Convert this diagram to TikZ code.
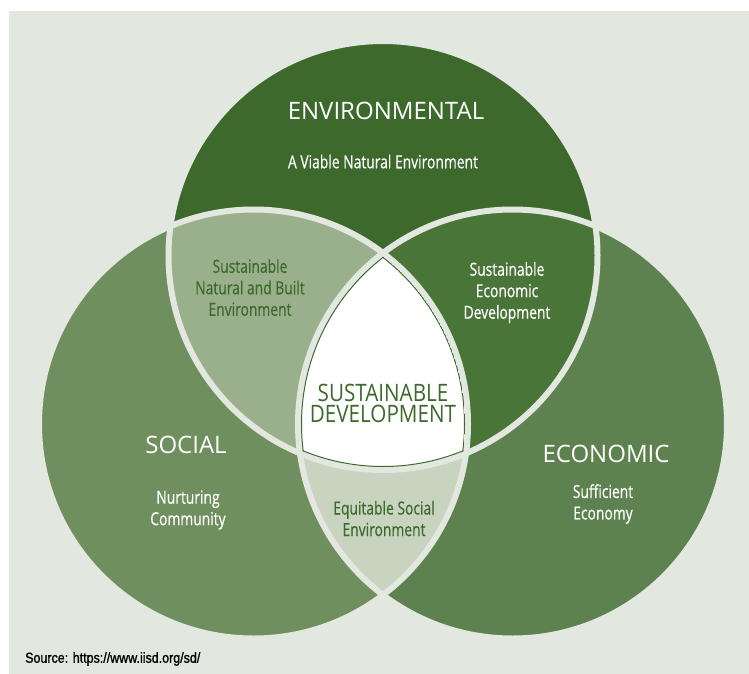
\documentclass[tikz,border=0pt]{standalone}
\usepackage{fontspec}
\setmainfont{Open Sans}
\newfontfamily\headfont{Open Sans}
\newfontfamily\condfont[FakeStretch=0.77,FakeBold=0.4]{Open Sans}
\newfontfamily\centfont[FakeStretch=0.86]{Open Sans}
\newfontfamily\srcfont[FakeStretch=0.86,FakeBold=1.2]{Liberation Sans}
\definecolor{bgc}{HTML}{E2E7E0}
\definecolor{envc}{HTML}{3D6A2C}
\definecolor{envecc}{HTML}{4A7538}
\definecolor{econc}{HTML}{5E824F}
\definecolor{socialc}{HTML}{6F8F5E}
\definecolor{natc}{HTML}{9AB08C}
\definecolor{equc}{HTML}{C8D4BF}
\definecolor{darkg}{HTML}{3B6A2A}
\def\circR{214.5pt}
\begin{document}
\begin{tikzpicture}[x=1pt,y=-1pt,
  lbl/.style={inner sep=0pt, align=center},
  headlbl/.style={lbl, text=white, font=\headfont\fontsize{24}{28}\selectfont},
  sublbl/.style={lbl, text=white, font=\condfont\fontsize{18}{21.5}\selectfont},
  lenslbl/.style={lbl, text=darkg, font=\condfont\fontsize{18}{21.5}\selectfont},
  band/.style={bgc, line width=6pt}]
\useasboundingbox (0,0) rectangle (749,674);
\fill[white] (0,0) rectangle (749,674);
\fill[bgc] (9,11) rectangle (749,674);
\coordinate (S) at (253.5,424);
\coordinate (E) at (512.5,424);
\coordinate (V) at (383,255.5);
% circles
\fill[socialc] (S) circle[radius=\circR];
\fill[econc] (E) circle[radius=\circR];
\fill[envc] (V) circle[radius=\circR];
% pairwise overlaps
\begin{scope}
  \clip (V) circle[radius=\circR];
  \fill[natc] (S) circle[radius=\circR];
\end{scope}
\begin{scope}
  \clip (V) circle[radius=\circR];
  \fill[envecc] (E) circle[radius=\circR];
\end{scope}
\begin{scope}
  \clip (S) circle[radius=\circR];
  \fill[equc] (E) circle[radius=\circR];
\end{scope}
% separating bands
\foreach \c in {S,E,V} \draw[band] (\c) circle[radius=\circR];
% centre
\begin{scope}
  \clip (V) circle[radius=211.5pt];
  \clip (S) circle[radius=211.5pt];
  \clip (E) circle[radius=211.5pt];
  \fill[white] (V) circle[radius=212pt];
  \foreach \c in {S,E,V} \draw[darkg, line width=1pt] (\c) circle[radius=211pt];
\end{scope}
% labels
\node[headlbl] (envT) at (386,111) {ENVIRONMENTAL};
\node[sublbl] (envS) at (383,161.5) {A Viable Natural Environment};
\node[headlbl] (socT) at (186,445) {SOCIAL};
\node[sublbl] (socS) at (188,510) {Nurturing\\Community};
\node[headlbl] (ecoT) at (606,453.5) {ECONOMIC};
\node[sublbl] (ecoS) at (603,504) {Sufficient\\Economy};
\node[lenslbl] (natL) at (250,287.5) {Sustainable\\Natural and Built\\Environment};
\node[sublbl] (ecoL) at (507,292.5) {Sustainable\\Economic\\Development};
\node[lenslbl] (equL) at (384,518.5) {Equitable Social\\Environment};
\node[lbl, text=darkg, font=\centfont\fontsize{24}{21}\selectfont] (sdL) at (383,403) {SUSTAINABLE\\DEVELOPMENT};
\node[lbl, anchor=west, text=black, font=\srcfont\fontsize{14.5}{16}\selectfont] (src) at (25,659) {Source: https://www.iisd.org/sd/};
\end{tikzpicture}
\end{document}
